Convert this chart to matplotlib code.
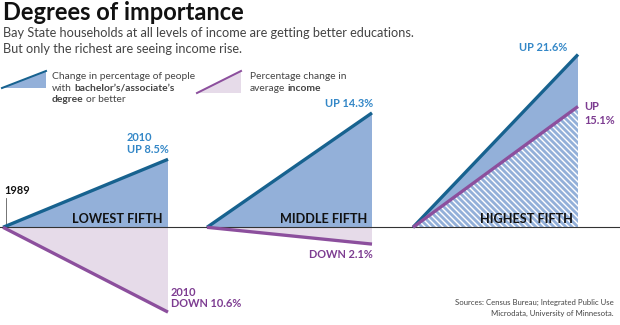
import matplotlib
matplotlib.use('Agg')
import matplotlib.pyplot as plt
import matplotlib.transforms as mtransforms

# ---------------- data ----------------
groups = ['LOWEST FIFTH', 'MIDDLE FIFTH', 'HIGHEST FIFTH']
degree_change = [8.5, 14.3, 21.6]     # % change, bachelor's/associate's degree
income_change = [-10.6, -2.1, 15.1]   # % change, average income
start_year, end_year = 1989, 2010

# ---------------- style ----------------
FONT = 'Lato'
plt.rcParams['font.family'] = [FONT, 'DejaVu Sans']
plt.rcParams['hatch.linewidth'] = 1.4
plt.rcParams['hatch.color'] = 'white'

BLUE_LINE = '#17628f'
BLUE_FILL = '#93b0d9'
BLUE_TEXT = '#3387c7'
PURP_LINE = '#8c4f9d'
PURP_FILL = '#e6dbe9'
PURP_TEXT = '#7d3c91'
GRAY_TEXT = '#444444'

W, H, DPI = 620, 325, 72
fig = plt.figure(figsize=(W / DPI, H / DPI), dpi=DPI)
fig.patch.set_facecolor('white')
ax = fig.add_axes([0, 0, 1, 1])
ax.axis('off')

BASE_PX = 227.3   # pixel row of the zero line
SCALE = 8.0       # pixels per percentage point
ax.set_xlim(0, W)
ax.set_ylim(-(H - BASE_PX) / SCALE, BASE_PX / SCALE)

# pixel transform (x from left, y from top)
PX = mtransforms.Affine2D().scale(1 / W, -1 / H).translate(0, 1) + fig.transFigure
renderer = fig.canvas.get_renderer()


def rich(x, y, parts, size, color, gap=2.6):
    """Draw a line of words made of (string, weight) parts at pixel (x, baseline y)."""
    cx = x
    for s, wt in parts:
        t = fig.text(cx / W, 1 - y / H, s, fontsize=size, fontweight=wt,
                     color=color, ha='left', va='baseline')
        bb = t.get_window_extent(renderer)
        cx += bb.width + gap


# ---------------- panels ----------------
panel_x0 = [3, 207, 413]
panel_w = 165


def year_x(i, year):
    return panel_x0[i] + (year - start_year) / (end_year - start_year) * panel_w


for i, g in enumerate(groups):
    xa, xb = year_x(i, start_year), year_x(i, end_year)
    d, inc = degree_change[i], income_change[i]
    ax.fill([xa, xb, xb], [0, d, 0], color=BLUE_FILL, lw=0, zorder=1)
    if inc < 0:
        ax.fill([xa, xb, xb], [0, inc, 0], color=PURP_FILL, lw=0, zorder=1)
    else:
        ax.fill([xa, xb, xb], [0, inc, 0], facecolor=BLUE_FILL, edgecolor='white',
                hatch='\\\\\\\\', lw=0, zorder=2)
    ax.plot([xa, xb], [0, d], color=BLUE_LINE, lw=3.3, solid_capstyle='butt', zorder=5)
    ax.plot([xa, xb], [0, inc], color=PURP_LINE, lw=3.3, solid_capstyle='butt', zorder=5)

ax.axhline(0, color='#333333', lw=1.1, zorder=4)

# 1989 marker
ax.plot([5.5, 5.5], [0, (BASE_PX - 198) / SCALE], color='#555555', lw=0.8, zorder=4)
fig.text(4 / W, 1 - 194 / H, str(start_year), fontsize=11, fontweight='bold',
         color='#111111', ha='left', va='baseline')

# panel titles
for i, g in enumerate(groups):
    fig.text((year_x(i, end_year) - 5) / W, 1 - 222.7 / H, g, fontsize=12.6,
             fontweight='bold', color='#111111', ha='right', va='baseline', zorder=6)

# value labels
lab_kw = dict(fontsize=11, fontweight='bold', va='baseline')
fig.text(127 / W, 1 - 140.7 / H, f'{end_year}', color=BLUE_TEXT, ha='left', **lab_kw)
fig.text(127 / W, 1 - 152.7 / H, f'UP {degree_change[0]}%', color=BLUE_TEXT, ha='left', **lab_kw)
fig.text(171 / W, 1 - 296 / H, f'{end_year}', color=PURP_TEXT, ha='left', **lab_kw)
fig.text(171 / W, 1 - 307 / H, f'DOWN {abs(income_change[0])}%', color=PURP_TEXT, ha='left', **lab_kw)
fig.text(373 / W, 1 - 107 / H, f'UP {degree_change[1]}%', color=BLUE_TEXT, ha='right', **lab_kw)
fig.text(373 / W, 1 - 258 / H, f'DOWN {abs(income_change[1])}%', color=PURP_TEXT, ha='right', **lab_kw)
fig.text(567 / W, 1 - 51 / H, f'UP {degree_change[2]}%', color=BLUE_TEXT, ha='right', **lab_kw)
fig.text(584 / W, 1 - 110 / H, 'UP', color=PURP_TEXT, ha='left', **lab_kw)
fig.text(584 / W, 1 - 124 / H, f'{income_change[2]}%', color=PURP_TEXT, ha='left', **lab_kw)

# ---------------- title ----------------
fig.text(3 / W, 1 - 19.5 / H, 'Degrees of importance', fontsize=23.6, fontweight='bold',
         color='#111111', ha='left', va='baseline')
fig.text(3 / W, 1 - 37 / H,
         'Bay State households at all levels of income are getting better educations.',
         fontsize=12.8, color=GRAY_TEXT, ha='left', va='baseline')
fig.text(3 / W, 1 - 53 / H, 'But only the richest are seeing income rise.',
         fontsize=12.8, color=GRAY_TEXT, ha='left', va='baseline')

# ---------------- legend ----------------
ax.fill([2, 46, 46], [88, 71, 88], transform=PX, color=BLUE_FILL, lw=0)
ax.plot([2, 46], [88, 71], transform=PX, color=BLUE_LINE, lw=2)
ax.fill([197, 241, 241], [93, 71, 93], transform=PX, color=PURP_FILL, lw=0)
ax.plot([197, 241], [93, 71], transform=PX, color=PURP_LINE, lw=2)

LS = 10.3
rich(52, 79, [('Change in percentage of people', 'normal')], LS, GRAY_TEXT)
rich(52, 90.5, [('with', 'normal'), ('bachelor\u2019s/associate\u2019s', 'bold')], LS, GRAY_TEXT)
rich(52, 102, [('degree', 'bold'), ('or better', 'normal')], LS, GRAY_TEXT)
rich(250, 79, [('Percentage change in', 'normal')], LS, GRAY_TEXT)
rich(250, 90.5, [('average', 'normal'), ('income', 'bold')], LS, GRAY_TEXT)

# ---------------- source ----------------
fig.text(614 / W, 1 - 305 / H, 'Sources: Census Bureau; Integrated Public Use',
         fontsize=7.8, color=GRAY_TEXT, ha='right', va='baseline')
fig.text(614 / W, 1 - 315.5 / H, 'Microdata, University of Minnesota.',
         fontsize=7.8, color=GRAY_TEXT, ha='right', va='baseline')

fig.savefig('out.png', dpi=DPI)
